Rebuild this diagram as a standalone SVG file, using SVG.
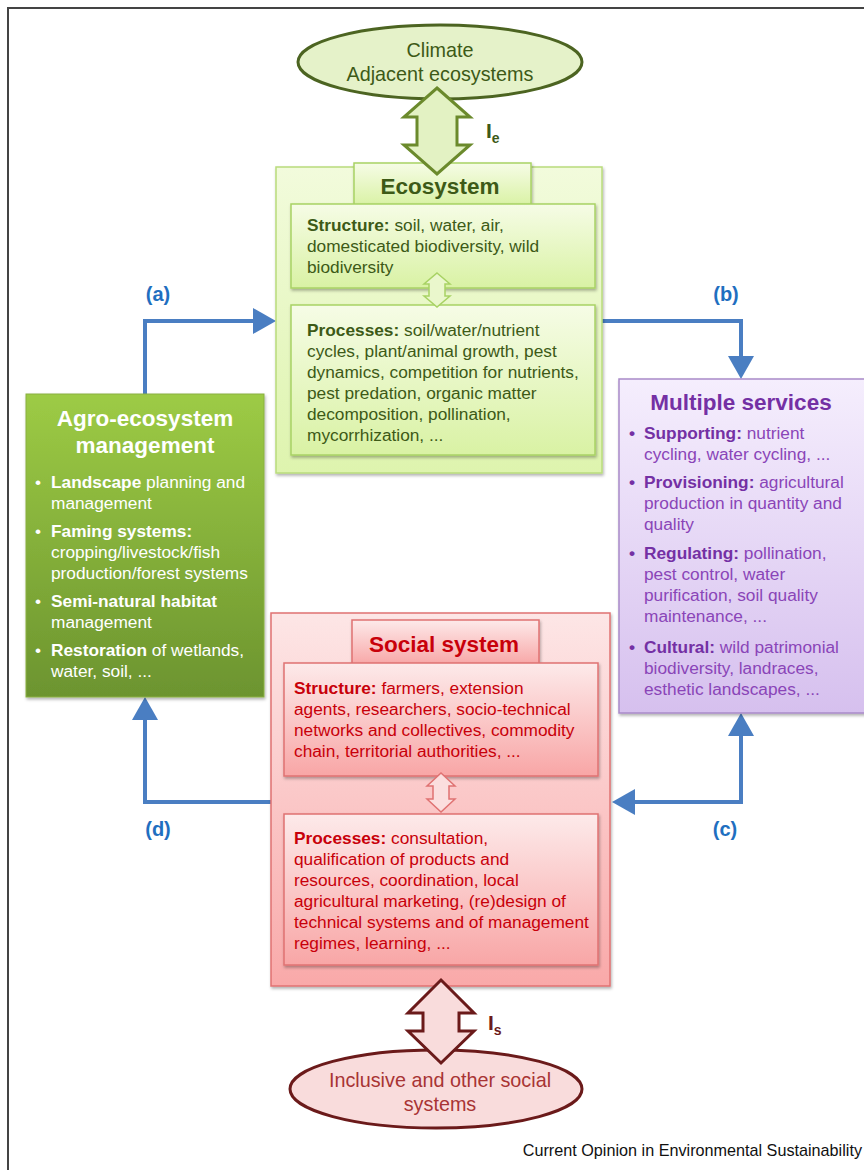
<svg xmlns="http://www.w3.org/2000/svg" width="864" height="1170" viewBox="0 0 864 1170">
<style>
text{font-family:"Liberation Sans",Arial,Helvetica,sans-serif;}
.b{font-weight:bold;}
.eco{fill:#3d5a17;font-size:17.3px;}
.agro{fill:#ffffff;font-size:17.3px;}
.svc{fill:#8a45b8;font-size:17.3px;}
.svcb{fill:#7430a4;font-weight:bold;}
.soc{fill:#c8000a;font-size:17.3px;}
.lbl{fill:#1f6fc0;font-size:20px;font-weight:bold;text-anchor:middle;}
.conn{fill:none;stroke:#4a7ec2;stroke-width:4;}
.head{fill:#4a7ec2;}
</style>
<defs>
<linearGradient id="gEco" x1="0" y1="0" x2="0" y2="1"><stop offset="0" stop-color="#f2fbdc"/><stop offset="1" stop-color="#def4ae"/></linearGradient>
<linearGradient id="gEcoIn" x1="0" y1="0" x2="0" y2="1"><stop offset="0" stop-color="#f6fce6"/><stop offset="1" stop-color="#d9f2a4"/></linearGradient>
<linearGradient id="gAgro" x1="0" y1="0" x2="0" y2="1"><stop offset="0" stop-color="#9dcb45"/><stop offset="1" stop-color="#6c942f"/></linearGradient>
<linearGradient id="gSvc" x1="0" y1="0" x2="0" y2="1"><stop offset="0" stop-color="#f5eefd"/><stop offset="1" stop-color="#d6c0ee"/></linearGradient>
<linearGradient id="gSoc" x1="0" y1="0" x2="0" y2="1"><stop offset="0" stop-color="#fde6e6"/><stop offset="1" stop-color="#f9a9a9"/></linearGradient>
<linearGradient id="gSocIn" x1="0" y1="0" x2="0" y2="1"><stop offset="0" stop-color="#fdeaea"/><stop offset="1" stop-color="#f8a6a6"/></linearGradient>
<filter id="sh" x="-10%" y="-10%" width="120%" height="120%"><feDropShadow dx="1" dy="2" stdDeviation="1.5" flood-color="#000" flood-opacity="0.3"/></filter>
</defs>

<rect x="8" y="8" width="880" height="1190" fill="#ffffff" stroke="#444444" stroke-width="2"/>

<g id="connectors">
<polyline class="conn" points="145,394 145,321 255,321"/>
<polygon class="head" points="276,321 253,308 253,334"/>
<polyline class="conn" points="602,321 741,321 741,359"/>
<polygon class="head" points="741,379 728,356 754,356"/>
<polyline class="conn" points="634,802 741,802 741,733"/>
<polygon class="head" points="741,713 728,736 754,736"/>
<polygon class="head" points="612,802 635,789 635,815"/>
<polyline class="conn" points="271,802 145,802 145,717"/>
<polygon class="head" points="145,697 132,720 158,720"/>
<text class="lbl" x="158" y="301">(a)</text>
<text class="lbl" x="726" y="301">(b)</text>
<text class="lbl" x="725" y="836">(c)</text>
<text class="lbl" x="158" y="836">(d)</text>
</g>

<g id="climate">
<ellipse cx="440" cy="62" rx="142" ry="37" fill="#e5f2c9" stroke="#4c6421" stroke-width="3"/>
<text x="440" y="57" text-anchor="middle" fill="#3d5a17" font-size="19.8">Climate</text>
<text x="440" y="81" text-anchor="middle" fill="#3d5a17" font-size="19.8">Adjacent ecosystems</text>
</g>

<g id="ecosystem">
<rect x="276" y="167" width="326" height="306" fill="url(#gEco)" stroke="#b9dc7c" stroke-width="1.5" filter="url(#sh)"/>
<rect x="354" y="163" width="177" height="43" fill="url(#gEcoIn)" stroke="#a8d264" stroke-width="1.5" filter="url(#sh)"/>
<text x="440" y="194" text-anchor="middle" class="b" fill="#3d5a17" font-size="22.5">Ecosystem</text>
<rect x="291" y="204" width="304" height="84" fill="url(#gEcoIn)" stroke="#a8d264" stroke-width="1.5" filter="url(#sh)"/>
<text class="eco" x="307" y="231"><tspan class="b">Structure:</tspan> soil, water, air,</text>
<text class="eco" x="307" y="252">domesticated biodiversity, wild</text>
<text class="eco" x="307" y="273">biodiversity</text>
<rect x="291" y="305" width="304" height="150" fill="url(#gEcoIn)" stroke="#a8d264" stroke-width="1.5" filter="url(#sh)"/>
<text class="eco" x="307" y="336"><tspan class="b">Processes:</tspan> soil/water/nutrient</text>
<text class="eco" x="307" y="357">cycles, plant/animal growth, pest</text>
<text class="eco" x="307" y="378">dynamics, competition for nutrients,</text>
<text class="eco" x="307" y="399">pest predation, organic matter</text>
<text class="eco" x="307" y="420">decomposition, pollination,</text>
<text class="eco" x="307" y="441">mycorrhization, ...</text>
<path d="M437,273 L450,284 L445,284 L445,296 L450,296 L437,307 L424,296 L429,296 L429,284 L424,284 Z" fill="#eaf7cc" stroke="#a8d264" stroke-width="1.5"/>
</g>

<g id="ie-arrow">
<path d="M437,88 L470,117 L457,117 L457,145 L470,145 L437,174 L404,145 L417,145 L417,117 L404,117 Z" fill="#e3f2c3" stroke="#6b8a2c" stroke-width="3" stroke-linejoin="miter"/>
<text x="486" y="138" class="b" fill="#3d5a17" font-size="21">I<tspan font-size="14" dy="5">e</tspan></text>
</g>

<g id="agro">
<rect x="26" y="394" width="238" height="303" fill="url(#gAgro)" stroke="#8ab040" stroke-width="1" filter="url(#sh)"/>
<text x="145" y="426" text-anchor="middle" class="b" fill="#ffffff" font-size="22.5">Agro-ecosystem</text>
<text x="145" y="453" text-anchor="middle" class="b" fill="#ffffff" font-size="22.5">management</text>
<text class="agro" x="35" y="488">•</text>
<text class="agro" x="51" y="488"><tspan class="b">Landscape</tspan> planning and</text>
<text class="agro" x="51" y="509">management</text>
<text class="agro" x="35" y="537">•</text>
<text class="agro" x="51" y="537"><tspan class="b">Faming systems:</tspan></text>
<text class="agro" x="51" y="558">cropping/livestock/fish</text>
<text class="agro" x="51" y="579">production/forest systems</text>
<text class="agro" x="35" y="607">•</text>
<text class="agro" x="51" y="607"><tspan class="b">Semi-natural habitat</tspan></text>
<text class="agro" x="51" y="628">management</text>
<text class="agro" x="35" y="656">•</text>
<text class="agro" x="51" y="656"><tspan class="b">Restoration</tspan> of wetlands,</text>
<text class="agro" x="51" y="677">water, soil, ...</text>
</g>

<g id="services">
<rect x="619" y="379" width="246" height="334" fill="url(#gSvc)" stroke="#a98bc9" stroke-width="1.5" filter="url(#sh)"/>
<text x="741" y="410" text-anchor="middle" class="b" fill="#7430a4" font-size="22.5">Multiple services</text>
<text class="svc" x="629" y="439"><tspan class="svcb">•</tspan></text>
<text class="svc" x="644" y="439"><tspan class="svcb">Supporting:</tspan> nutrient</text>
<text class="svc" x="644" y="460">cycling, water cycling, ...</text>
<text class="svc" x="629" y="488"><tspan class="svcb">•</tspan></text>
<text class="svc" x="644" y="488"><tspan class="svcb">Provisioning:</tspan> agricultural</text>
<text class="svc" x="644" y="509">production in quantity and</text>
<text class="svc" x="644" y="530">quality</text>
<text class="svc" x="629" y="559"><tspan class="svcb">•</tspan></text>
<text class="svc" x="644" y="559"><tspan class="svcb">Regulating:</tspan> pollination,</text>
<text class="svc" x="644" y="580">pest control, water</text>
<text class="svc" x="644" y="601">purification, soil quality</text>
<text class="svc" x="644" y="622">maintenance, ...</text>
<text class="svc" x="629" y="653"><tspan class="svcb">•</tspan></text>
<text class="svc" x="644" y="653"><tspan class="svcb">Cultural:</tspan> wild patrimonial</text>
<text class="svc" x="644" y="674">biodiversity, landraces,</text>
<text class="svc" x="644" y="695">esthetic landscapes, ...</text>
</g>

<g id="social">
<rect x="271" y="613" width="339" height="373" fill="url(#gSoc)" stroke="#e07272" stroke-width="1.5" filter="url(#sh)"/>
<rect x="352" y="620" width="187" height="45" fill="url(#gSocIn)" stroke="#e07272" stroke-width="1.5" filter="url(#sh)"/>
<text x="444" y="652" text-anchor="middle" class="b" fill="#c8000a" font-size="22.5">Social system</text>
<rect x="284" y="663" width="314" height="113" fill="url(#gSocIn)" stroke="#e07272" stroke-width="1.5" filter="url(#sh)"/>
<text class="soc" x="294" y="694"><tspan class="b">Structure:</tspan> farmers, extension</text>
<text class="soc" x="294" y="715">agents, researchers, socio-technical</text>
<text class="soc" x="294" y="736">networks and collectives, commodity</text>
<text class="soc" x="294" y="757">chain, territorial authorities, ...</text>
<rect x="284" y="814" width="314" height="151" fill="url(#gSocIn)" stroke="#e07272" stroke-width="1.5" filter="url(#sh)"/>
<text class="soc" x="294" y="844"><tspan class="b">Processes:</tspan> consultation,</text>
<text class="soc" x="294" y="865">qualification of products and</text>
<text class="soc" x="294" y="886">resources, coordination, local</text>
<text class="soc" x="294" y="907">agricultural marketing, (re)design of</text>
<text class="soc" x="294" y="928">technical systems and of management</text>
<text class="soc" x="294" y="949">regimes, learning, ...</text>
<path d="M441,773 L455,786 L449,786 L449,799 L455,799 L441,812 L427,799 L433,799 L433,786 L427,786 Z" fill="#fbdede" stroke="#e07272" stroke-width="1.5"/>
</g>

<g id="inclusive">
<ellipse cx="436" cy="1089" rx="146" ry="39" fill="#f9dcdc" stroke="#6b1a1a" stroke-width="3"/>
<text x="440" y="1087" text-anchor="middle" fill="#a83434" font-size="19.8">Inclusive and other social</text>
<text x="440" y="1111" text-anchor="middle" fill="#a83434" font-size="19.8">systems</text>
</g>

<g id="is-arrow">
<path d="M441,980 L474,1013 L459,1013 L459,1031 L474,1031 L441,1063 L408,1031 L423,1031 L423,1013 L408,1013 Z" fill="#f9dcdc" stroke="#6b1a1a" stroke-width="3"/>
<text x="488" y="1030" class="b" fill="#6b1a1a" font-size="21">I<tspan font-size="14" dy="5">s</tspan></text>
</g>

<text x="862" y="1156" text-anchor="end" fill="#111111" font-size="16.2">Current Opinion in Environmental Sustainability</text>
</svg>
